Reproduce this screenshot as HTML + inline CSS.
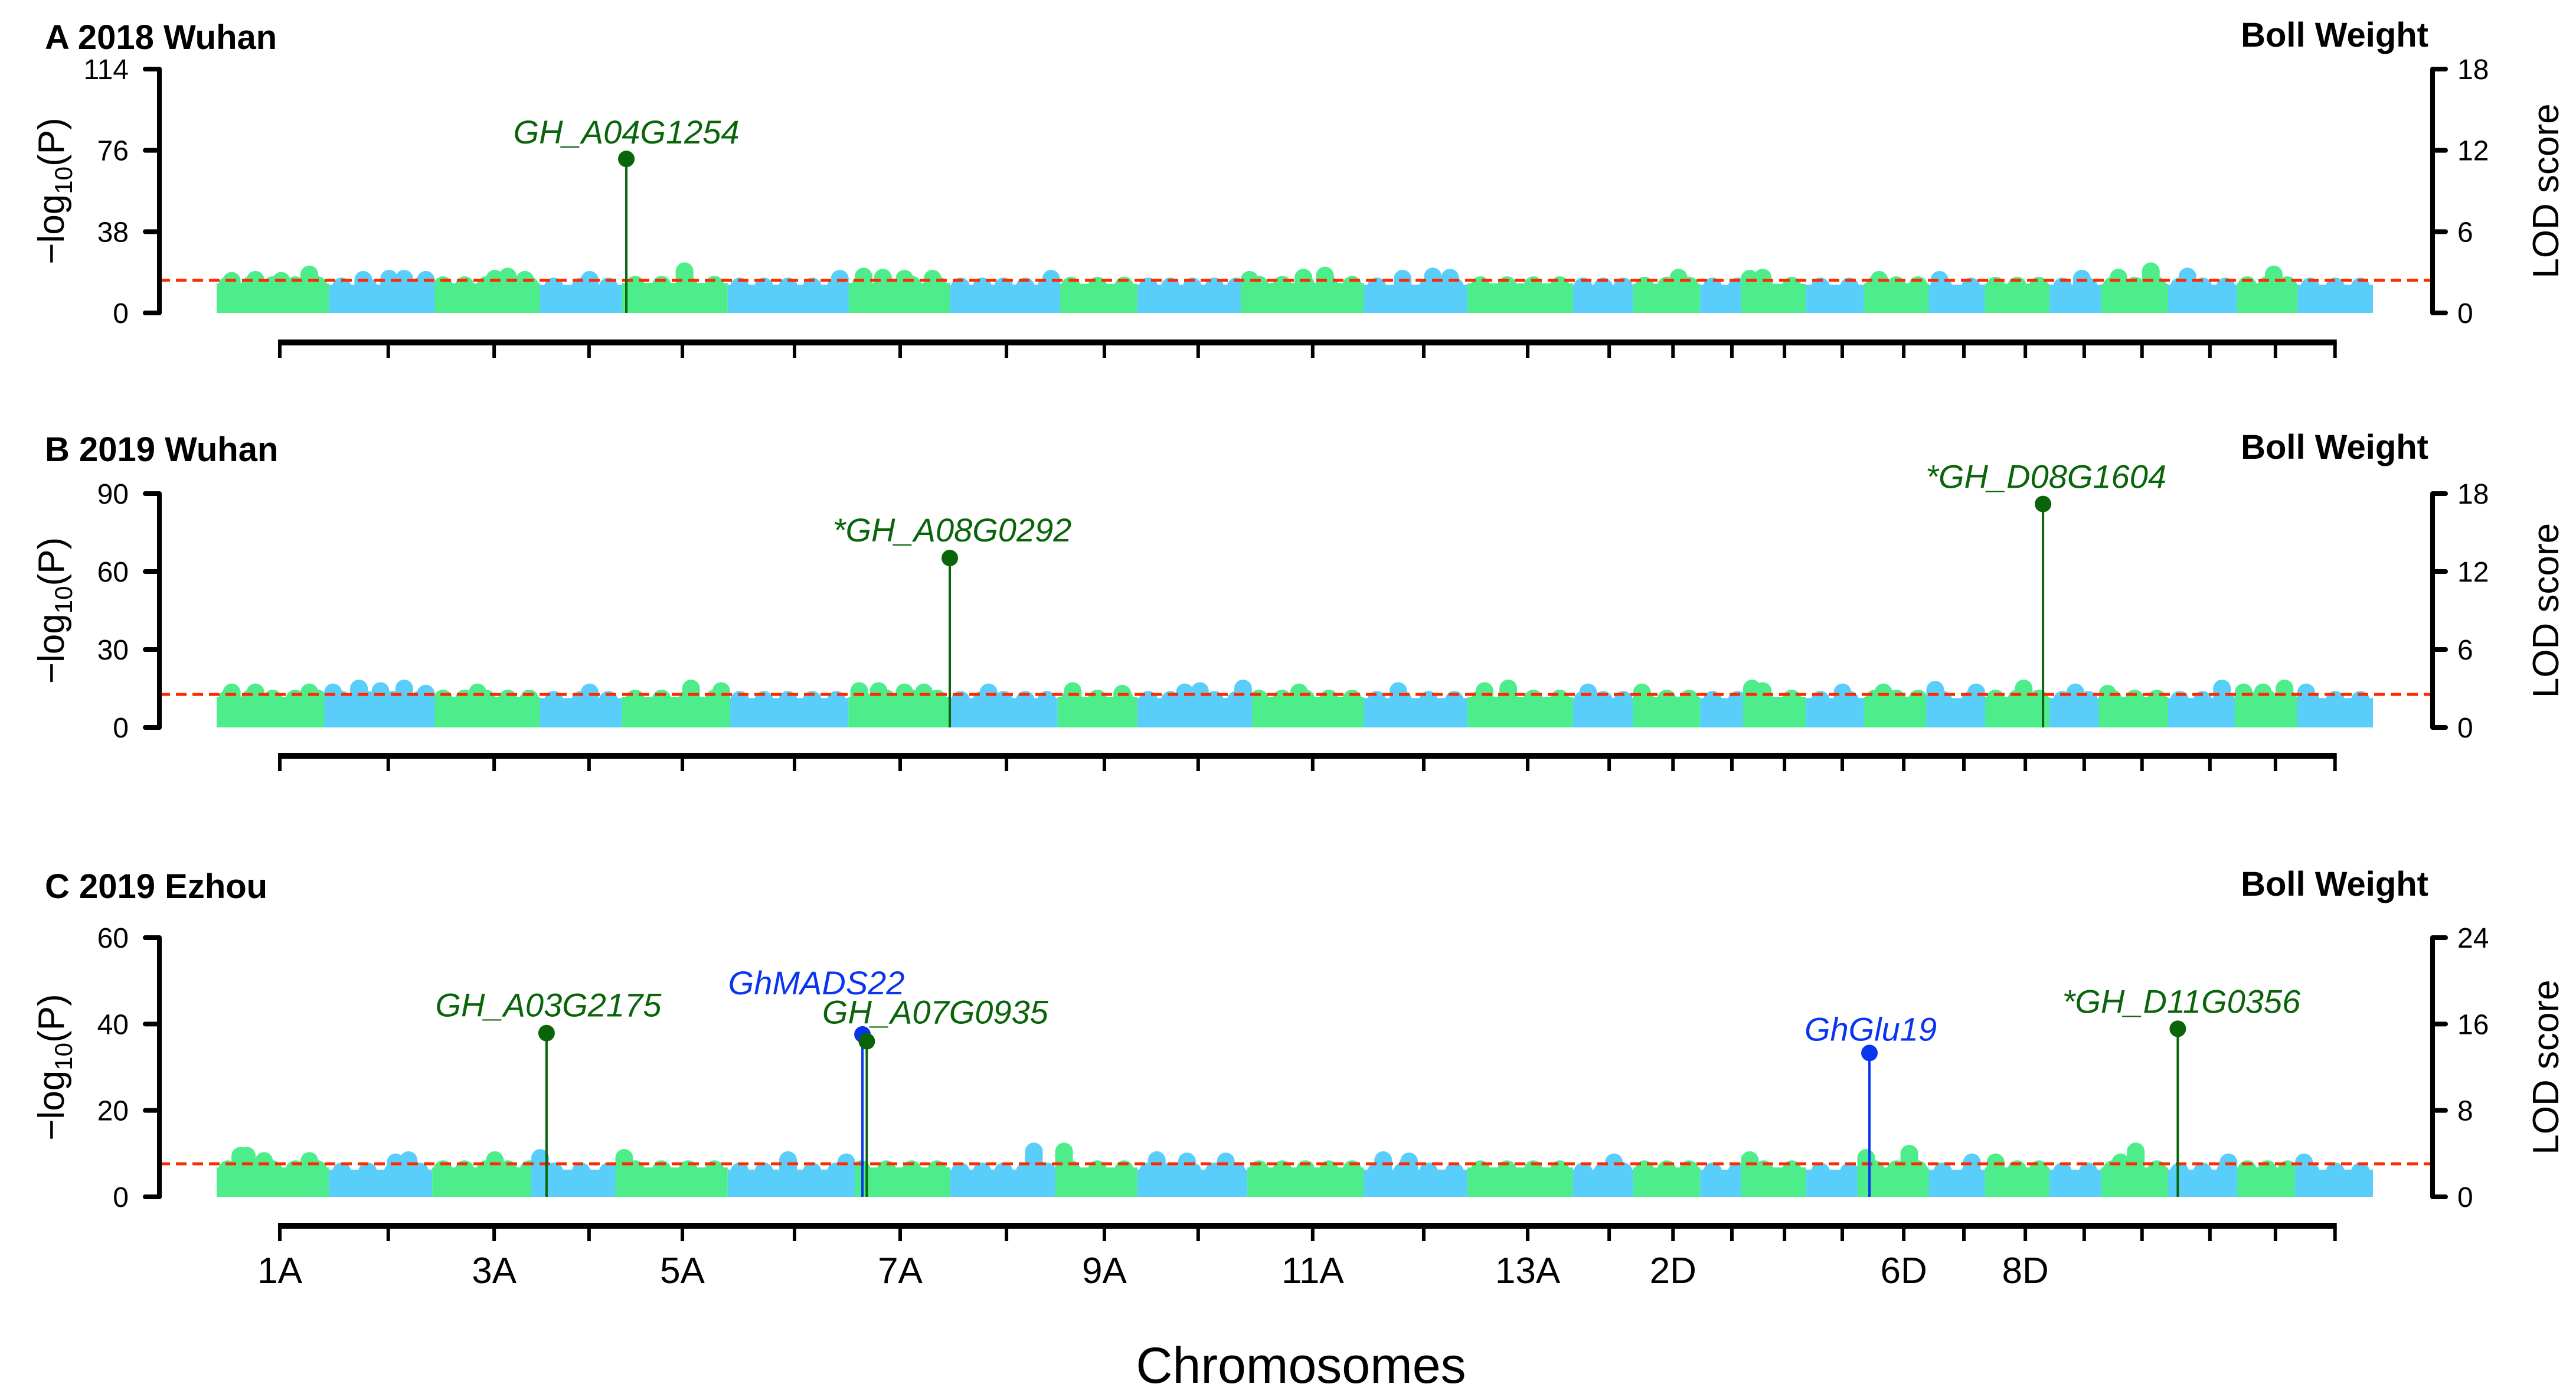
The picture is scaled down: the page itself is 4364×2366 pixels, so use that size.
<!DOCTYPE html>
<html><head><meta charset="utf-8"><style>
html,body{margin:0;padding:0;background:#fff;}
svg{display:block;}
text{font-family:"Liberation Sans",Arial,sans-serif;}
</style></head><body>
<svg id="chart" xmlns="http://www.w3.org/2000/svg" width="4364" height="2366" viewBox="0 0 4364 2366">
<rect x="0" y="0" width="4364" height="2366" fill="#fff"/>
<text x="2204" y="2342" font-size="86" text-anchor="middle">Chromosomes</text>
</svg>
<script>
// chromosome boundaries in genome units (0..1000)
const chrBounds = [0,52,100,150,188,237,293,340,390,427,478,532,580,629,657,688,711,737,764,794,820,850,874,905,937,965,1000];
const chrTicks = [29.3,79.6,128.7,172.7,216,268,317,366.3,411.7,455.2,508.3,559.8,608,645.8,675.4,702.7,727.1,753.9,782.4,810.3,838.8,866.1,892.9,924.4,954.8,982.4];
const chrLabels = ["1A","","3A","","5A","","7A","","9A","","11A","","13A","","2D","","","","6D","","8D","","","","",""];

// Panel A data
const aTicks = [0,38,76,114];
const aLod = [0,6,12,18];
const aBase = [13.8,13.2,13.8,13.2,14,13.2,14,13.2,13.6,13.2,14,13.2,13.8,13.2,13.6,13.2,13.6,13.2,13.8,13.2,13.6,13.2,13.6,13.2,13.8,13.2];
const aBumpX = [7,18,30,43,68,80,87,97,129,135,143,173,217,289,300,309,319,332,387,479,504,514,550,564,572,678,711,717,771,799,865,882,897,914,954];
const aBumpY = [15,15.5,15,18,15.5,16,16,15.5,16,17,15.5,15.5,19.5,16,17,16.5,16,16,16,15.5,16.5,17.5,16,17,16.5,16.5,16,16.5,15.5,15.5,16,16.5,19.5,17,18];
const aPeakNames = ["GH_A04G1254"];
const aPeakX = [190];
const aPeakY = [72];

// Panel B data
const bTicks = [0,30,60,90];
const bLod = [0,6,12,18];
const bBase = [11.8,11.3,11.8,11.3,11.8,11.3,11.8,11.3,11.8,11.3,11.8,11.3,11.8,11.3,11.8,11.3,11.8,11.3,11.8,11.3,11.8,11.3,11.8,11.3,11.8,11.3];
const bBumpX = [7,18,43,54,66,76,87,97,121,173,220,234,298,307,319,328,358,397,420,449,456,476,502,548,588,599,636,661,712,717,754,773,797,816,838,862,877,930,940,949,959,969];
const bBumpY = [13.5,13.5,13.5,13.5,15,14,15,13,13.5,13.5,15,14,14,14,13.5,13.5,13.5,14,13,13.5,14,15,13.5,14,14,15,13.5,13.5,15,14,13.5,13.5,14.5,13.5,15,13.5,13,15,13.5,13.5,15,13.5];
const bPeakNames = ["*GH_A08G0292","*GH_D08G1604"];
const bPeakX = [340,847];
const bPeakY = [65.2,86];

// Panel C data
const cTicks = [0,20,40,60];
const cLod = [0,8,16,24];
const cBase = [6.8,6.3,6.8,6.3,6.8,6.3,6.8,6.3,6.8,6.3,6.8,6.3,6.8,6.3,6.8,6.3,6.8,6.3,6.8,6.3,6.8,6.3,6.8,6.3,6.8,6.3];
const cBumpX = [11,14,22,43,83,89,129,150,189,265,292,379,393,436,450,468,541,553,648,711,765,785,814,825,883,890,933,968];
const cBumpY = [9.5,9.5,8.3,8.3,8,8.5,8.5,9,9,8.5,8,10.5,10.5,8.5,8.2,8.2,8.5,8.2,8,8.5,9,10,8,8,8,10.5,8,8];
const cPeakNames = ["GH_A03G2175","GhMADS22","GH_A07G0935","GhGlu19","*GH_D11G0356"];
const cPeakX = [153,299.5,301.5,766.5,909.5];
const cPeakY = [37.9,37.6,36,33.3,38.9];

const panels = [
 {id:"a",letter:"A",title:"2018 Wuhan",y0:530,yTop:117,ticks:aTicks,lod:aLod,thr:15.3,base:aBase,bx:aBumpX,by:aBumpY,pn:aPeakNames,px:aPeakX,py:aPeakY,pc:["#0a640a"],axisY:580,titleY:83,labels:false,
  lab:[[0,-26]]},
 {id:"b",letter:"B",title:"2019 Wuhan",y0:1232,yTop:836,ticks:bTicks,lod:bLod,thr:12.7,base:bBase,bx:bBumpX,by:bBumpY,pn:bPeakNames,px:bPeakX,py:bPeakY,pc:["#0a640a","#0a640a"],axisY:1280,titleY:781,labels:false,
  lab:[[4,-28],[5,-27]]},
 {id:"c",letter:"C",title:"2019 Ezhou",y0:2027,yTop:1588,ticks:cTicks,lod:cLod,thr:7.65,base:cBase,bx:cBumpX,by:cBumpY,pn:cPeakNames,px:cPeakX,py:cPeakY,pc:["#0a640a","#0a35f0","#0a640a","#0a35f0","#0a640a"],axisY:2076,titleY:1521,labels:true,
  lab:[[3,-28],[-78,-68],[116,-30],[2,-21],[6,-27]]}
];
const X0=367, X1=4020, LX=270, RX=4121;
const xScale = u => X0 + (u/1000)*(X1-X0);
const svg = document.getElementById('chart');
const NS="http://www.w3.org/2000/svg";
function mk(tag, attrs, parent){const e=document.createElementNS(NS,tag);for(const k in attrs)e.setAttribute(k,attrs[k]);(parent||svg).appendChild(e);return e;}
const GREEN="#4ded8c", BLUE="#5acefa";

panels.forEach(p=>{
  const ymax=p.ticks[p.ticks.length-1];
  const yScale=v=>p.y0-(v/ymax)*(p.y0-p.yTop);
  const lmax=p.lod[p.lod.length-1];
  const lodScale=v=>p.y0-(v/lmax)*(p.y0-p.yTop);
  const g=mk('g',{});
  
  
  const t=mk('text',{x:76,y:p.titleY,'font-size':58,'font-weight':'bold'},g);
  t.textContent=p.letter+'  '+p.title;
  
  
  const tr=mk('text',{x:4114,y:p.titleY-4,'font-size':58,'font-weight':'bold','text-anchor':'end'},g);
  tr.textContent='Boll Weight';
  
  
  for(let i=0;i<26;i++){
    const xa=xScale(chrBounds[i]), xb=xScale(chrBounds[i+1]);
    const col=i%2?BLUE:GREEN;
    const top=yScale(p.base[i]);
    const r=mk('rect',{x:xa,y:top,width:xb-xa,height:p.y0-top,fill:col},g);
    
    
    // jagged top: small rounded caps along block
    const n=Math.max(2,Math.round((xb-xa)/40));
    for(let k=0;k<n;k++){
      const cx=xa+(k+0.5)*(xb-xa)/n;
      const c=mk('circle',{cx:cx,cy:top+4,r:Math.min(16,(xb-xa)/n/2+4),fill:col},g);
      
      
    }
  }
  p.bx.forEach((u,j)=>{
    let ci=0; while(ci<25 && u>=chrBounds[ci+1]) ci++;
    const col=ci%2?BLUE:GREEN;
    const cx=xScale(u), cy=yScale(p.by[j]);
    const r=mk('rect',{x:cx-15,y:cy,width:30,height:p.y0-cy,fill:col},g);
    
    
    const c=mk('circle',{cx:cx,cy:cy,r:15,fill:col},g);
    
    
  });
  const th=mk('line',{x1:LX,x2:RX,y1:yScale(p.thr),y2:yScale(p.thr),stroke:'#ff2a00','stroke-width':5,'stroke-dasharray':'18 10'},g);
  
  
  p.pn.forEach((n,j)=>{
    const cx=xScale(p.px[j]), cy=yScale(p.py[j]);
    const col=p.pc[j];
    const l=mk('line',{x1:cx,x2:cx,y1:cy,y2:p.y0,stroke:col,'stroke-width':4},g);
    
    
    const c=mk('circle',{cx:cx,cy:cy,r:14,fill:col},g);
    
    
    const tx=mk('text',{x:cx+p.lab[j][0],y:cy+p.lab[j][1],'font-size':56,'font-style':'italic',fill:col,'text-anchor':'middle'},g);
    tx.textContent=n;
    
    
  });
  const la=mk('line',{x1:LX,x2:LX,y1:p.yTop,y2:p.y0,stroke:'#000','stroke-width':8},g);
  
  
  p.ticks.forEach(v=>{
    const y=yScale(v);
    const tk=mk('line',{x1:LX-24,x2:LX,y1:y,y2:y,stroke:'#000','stroke-width':8,'stroke-linecap':'round'},g);
    
    
    const tl=mk('text',{x:LX-52,y:y+17,'font-size':48,'text-anchor':'end'},g);
    tl.textContent=v;
    
    
  });
  const cyT=(p.y0+p.yTop)/2;
  const yt=mk('text',{x:0,y:0,'font-size':62,'text-anchor':'middle',transform:`translate(108,${cyT}) rotate(-90)`},g);
  yt.innerHTML='\u2212log<tspan font-size="42" dy="14">10</tspan><tspan dy="-14">(P)</tspan>';
  
  
  const ra=mk('line',{x1:RX,x2:RX,y1:lodScale(lmax),y2:p.y0,stroke:'#000','stroke-width':8},g);
  
  
  p.lod.forEach(v=>{
    const y=lodScale(v);
    const tk=mk('line',{x1:RX,x2:RX+22,y1:y,y2:y,stroke:'#000','stroke-width':8,'stroke-linecap':'round'},g);
    
    
    const tl=mk('text',{x:RX+42,y:y+17,'font-size':48},g);
    tl.textContent=v;
    
    
  });
  const cyL=(p.y0+lodScale(lmax))/2;
  const lt=mk('text',{x:0,y:0,'font-size':62,'text-anchor':'middle',transform:`translate(4334,${cyL}) rotate(-90)`},g);
  lt.textContent='LOD score';
  
  
  const xa0=xScale(chrTicks[0]), xa1=xScale(chrTicks[25]);
  const ba=mk('line',{x1:xa0-3,x2:xa1+3,y1:p.axisY,y2:p.axisY,stroke:'#000','stroke-width':10},g);
  
  
  chrTicks.forEach((u,i)=>{
    const x=xScale(u);
    const tk=mk('line',{x1:x,x2:x,y1:p.axisY,y2:p.axisY+26,stroke:'#000','stroke-width':6},g);
    
    
    if(p.labels && chrLabels[i]){
      const tl=mk('text',{x:x,y:p.axisY+97,'font-size':62,'text-anchor':'middle'},g);
      tl.textContent=chrLabels[i];
      
      
    }
  });
});
</script>
</body></html>
